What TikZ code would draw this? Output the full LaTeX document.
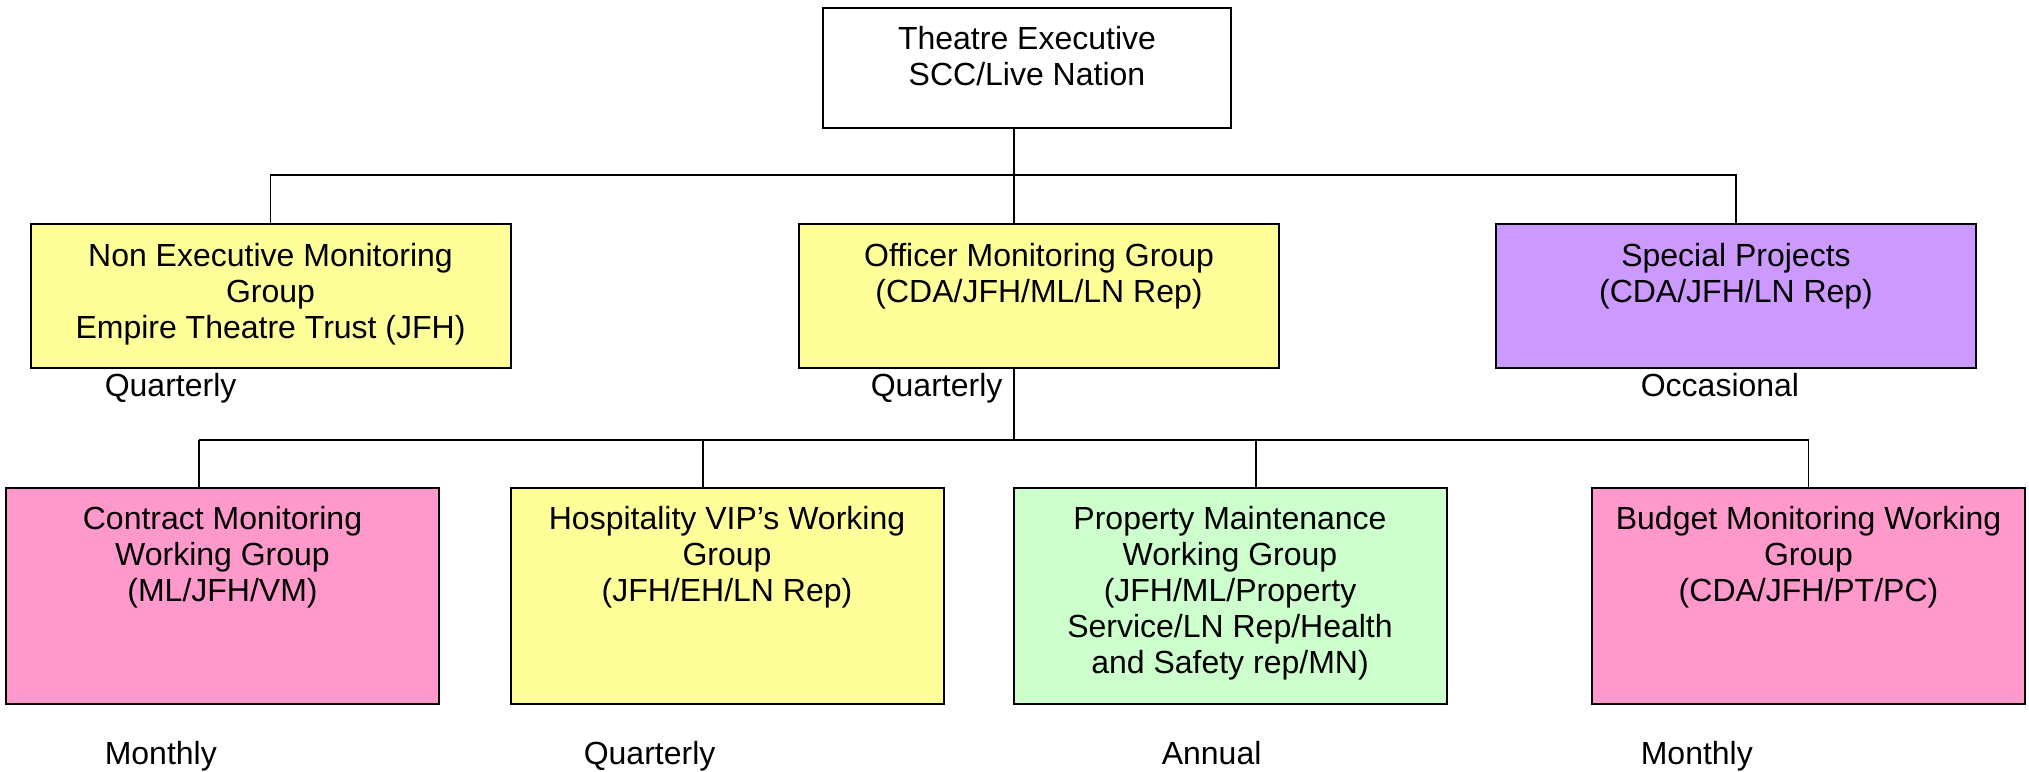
\documentclass[tikz,border=0pt]{standalone}
\usepackage{fontspec}
\setmainfont{Liberation Sans}
\usetikzlibrary{positioning}

\definecolor{paleyellow}{HTML}{FFFF99}
\definecolor{palepink}{HTML}{FF99CC}
\definecolor{lilac}{HTML}{CC99FF}
\definecolor{palegreen}{HTML}{CCFFCC}

\begin{document}
\begin{tikzpicture}[
    x=0.5pt, y=-0.5pt,
    line width=0.8pt,
    unit/.style={draw=black, line width=1pt, inner sep=0pt},
    execbox/.style={unit, minimum width=204pt, minimum height=60pt},
    panel/.style={unit, minimum width=240pt, minimum height=72pt},
    wgroup/.style={unit, minimum width=216.5pt, minimum height=108pt},
    boxtext/.style={align=center, inner sep=0pt, font=\fontsize{16}{18}\selectfont},
    freq/.style={anchor=base west, inner sep=0pt, font=\fontsize{16}{18}\selectfont}
]
    \useasboundingbox (0,0) rectangle (2029,771);

    % boxes
    \node[execbox, fill=white] (exec) at (1027,68) {};
    \node[panel, fill=paleyellow] (nonexec) at (270.5,296) {};
    \node[panel, fill=paleyellow] (officer) at (1039,296) {};
    \node[panel, fill=lilac] (special) at (1736,296) {};
    \node[wgroup, fill=palepink] (contract) at (222.5,596) {};
    \node[wgroup, fill=paleyellow] (hospitality) at (727,596) {};
    \node[wgroup, fill=palegreen] (property) at (1230,596) {};
    \node[wgroup, fill=palepink] (budget) at (1808.5,596) {};

    % texts, hung from the top of each box
    \node[boxtext, below=9.5pt of exec.north] (exec-t) {Theatre Executive\\SCC/Live Nation};
    \node[boxtext, below=10pt of nonexec.north] (nonexec-t) {Non Executive Monitoring\\Group\\Empire Theatre Trust (JFH)};
    \node[boxtext, below=10pt of officer.north] (officer-t) {Officer Monitoring Group\\(CDA/JFH/ML/LN Rep)};
    \node[boxtext, below=10pt of special.north] (special-t) {Special Projects\\(CDA/JFH/LN Rep)};
    \node[boxtext, below=9.5pt of contract.north] (contract-t) {Contract Monitoring\\Working Group\\(ML/JFH/VM)};
    \node[boxtext, below=9.5pt of hospitality.north] (hospitality-t) {Hospitality VIP’s Working\\Group\\(JFH/EH/LN Rep)};
    \node[boxtext, below=9.5pt of property.north] (property-t) {Property Maintenance\\Working Group\\(JFH/ML/Property\\Service/LN Rep/Health\\and Safety rep/MN)};
    \node[boxtext, below=9.5pt of budget.north] (budget-t) {Budget Monitoring Working\\Group\\(CDA/JFH/PT/PC)};

    % meeting frequency
    \node[freq] (nonexec-f) at (104,396) {Quarterly};
    \node[freq] (officer-f) at (870,396) {Quarterly};
    \node[freq] (special-f) at (1640,396) {Occasional};
    \node[freq] (contract-f) at (104,764) {Monthly};
    \node[freq] (hospitality-f) at (583,764) {Quarterly};
    \node[freq] (property-f) at (1161,764) {Annual};
    \node[freq] (budget-f) at (1640,764) {Monthly};

    % connectors
    \coordinate (hub) at (1014,175);
    \coordinate (fork) at (1014,440);
    \coordinate (d1) at (199,440);
    \coordinate (d2) at (703,440);
    \coordinate (d3) at (1256,440);
    \coordinate (d4) at (1808.5,440);

    \draw (exec.south -| hub) -- (hub);
    \draw (nonexec.north) |- (hub) -| (special.north);
    \draw (hub) -- (officer.north -| hub);
    \draw (officer.south -| fork) -- (fork);
    \draw (d1) -- (d4);
    \foreach \g/\d in {contract/d1, hospitality/d2, property/d3, budget/d4}
        \draw (\d) -- (\d |- \g.north);
\end{tikzpicture}
\end{document}
